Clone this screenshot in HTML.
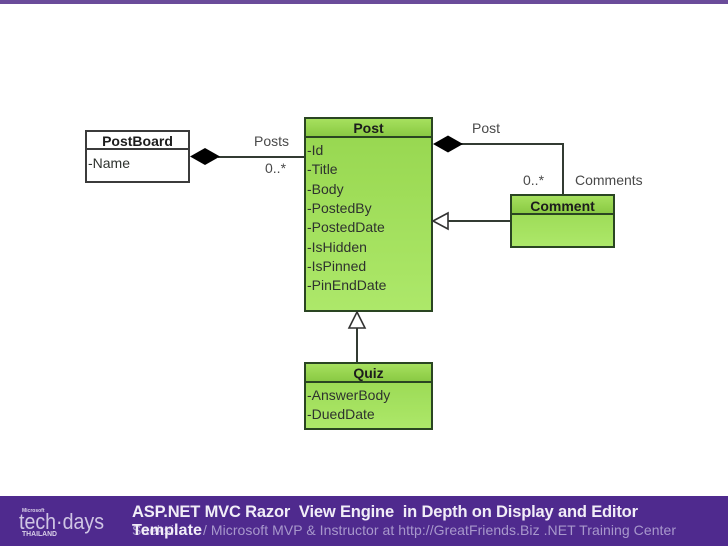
<!DOCTYPE html>
<html>
<head>
<meta charset="utf-8">
<style>
html,body{margin:0;padding:0;background:#fff}
svg{display:block}
text{font-family:"Liberation Sans",sans-serif}
</style>
</head>
<body>
<svg width="728" height="546" viewBox="0 0 728 546" xmlns="http://www.w3.org/2000/svg">
<defs>
<linearGradient id="b" x1="0" y1="0" x2="0" y2="1"><stop offset="0" stop-color="#96d64e"/><stop offset="1" stop-color="#ade86a"/></linearGradient>
<linearGradient id="h" x1="0" y1="0" x2="0" y2="1"><stop offset="0" stop-color="#a6e05e"/><stop offset="1" stop-color="#88c842"/></linearGradient>
<filter id="s" x="-5%" y="-5%" width="110%" height="110%"><feGaussianBlur stdDeviation="0.25"/></filter>
</defs>
<rect width="728" height="546" fill="#fff"/>
<rect width="728" height="4" fill="#6b4c9a"/>
<g filter="url(#s)">
<g fill="none" stroke="#333b33" stroke-width="2">
<line x1="218" y1="157" x2="305" y2="157"/>
<polyline points="461,144 563,144 563,195"/>
<line x1="447" y1="221" x2="511" y2="221"/>
<line x1="357" y1="328" x2="357" y2="363"/>
</g>
<rect x="86" y="131" width="103" height="51" fill="#fff" stroke="#3a3a3a" stroke-width="2"/>
<line x1="86" y1="149" x2="189" y2="149" stroke="#3a3a3a" stroke-width="2"/>
<rect x="305" y="118" width="127" height="193" fill="url(#b)" stroke="#2a4420" stroke-width="2"/>
<rect x="306" y="119" width="125" height="18" fill="url(#h)"/>
<line x1="305" y1="137" x2="432" y2="137" stroke="#2a4420" stroke-width="2"/>
<rect x="511" y="195" width="103" height="52" fill="url(#b)" stroke="#2a4420" stroke-width="2"/>
<rect x="512" y="196" width="101" height="18" fill="url(#h)"/>
<line x1="511" y1="214" x2="614" y2="214" stroke="#2a4420" stroke-width="2"/>
<rect x="305" y="363" width="127" height="66" fill="url(#b)" stroke="#2a4420" stroke-width="2"/>
<rect x="306" y="364" width="125" height="18" fill="url(#h)"/>
<line x1="305" y1="382" x2="432" y2="382" stroke="#2a4420" stroke-width="2"/>
<polygon points="190,156.500 205,148 220,156.500 205,165" fill="#000"/>
<polygon points="433,144 448,135.500 463,144 448,152.500" fill="#000"/>
<polygon points="433,221 448,213 448,229" fill="#fff" stroke="#333" stroke-width="1.600"/>
<polygon points="357,312 365,328 349,328" fill="#fff" stroke="#333" stroke-width="1.600"/>
<g font-size="14" fill="#1c1c1c" text-anchor="middle" font-weight="700">
<text x="137.500" y="146">PostBoard</text>
<text x="368.500" y="133">Post</text>
<text x="562.500" y="211">Comment</text>
<text x="368.500" y="378">Quiz</text>
</g>
<g font-size="14" fill="#2e332e">
<text x="88" y="168">-Name</text>
<text x="307" y="155">-Id</text>
<text x="307" y="174">-Title</text>
<text x="307" y="194">-Body</text>
<text x="307" y="213">-PostedBy</text>
<text x="307" y="232">-PostedDate</text>
<text x="307" y="252">-IsHidden</text>
<text x="307" y="271">-IsPinned</text>
<text x="307" y="290">-PinEndDate</text>
<text x="307" y="400">-AnswerBody</text>
<text x="307" y="419">-DuedDate</text>
</g>
<g font-size="14" fill="#4a4a4a">
<text x="254" y="146">Posts</text>
<text x="265" y="173">0..*</text>
<text x="472" y="133">Post</text>
<text x="523" y="185">0..*</text>
<text x="575" y="185">Comments</text>
</g>
</g>
<rect y="496" width="728" height="50" fill="#4f2a8e"/>
<g fill="#d9d0e8" filter="url(#s)">
<text x="22" y="512" font-size="5" font-weight="700">Microsoft</text>
<text x="19" y="529" font-size="22" fill="#cfc5e4" textLength="85" lengthAdjust="spacingAndGlyphs">tech·days</text>
<text x="22" y="536" font-size="7" font-weight="700" textLength="35" lengthAdjust="spacingAndGlyphs">THAILAND</text>
</g>
<text x="132" y="535" font-size="14" fill="#a898cc">Saeksit</text>
<text x="203" y="535" font-size="14" fill="#a898cc" textLength="473" lengthAdjust="spacing">/ Microsoft MVP &amp; Instructor at http://GreatFriends.Biz .NET Training Center</text>
<g font-weight="700" fill="#f1edf7">
<text x="132" y="517" font-size="16.500" xml:space="preserve" textLength="506" lengthAdjust="spacing">ASP.NET MVC Razor  View Engine  in Depth on Display and Editor</text>
<text x="132" y="535" font-size="16" textLength="70" lengthAdjust="spacingAndGlyphs">Template</text>
</g>
</svg>
</body>
</html>
